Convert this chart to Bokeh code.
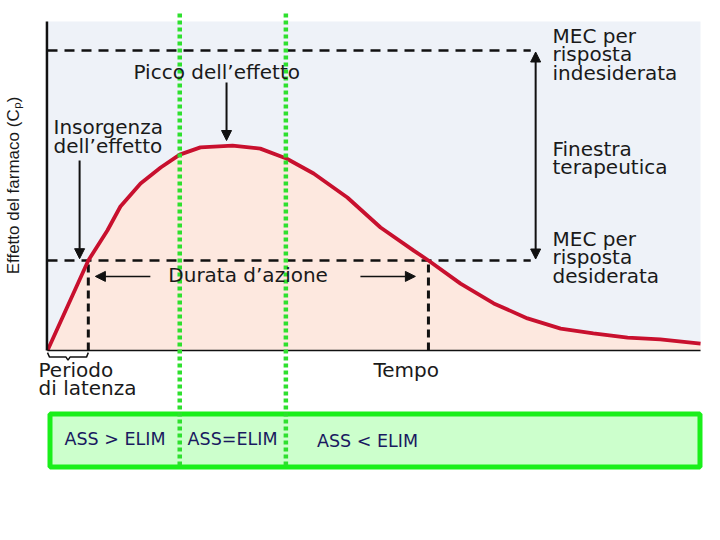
import math
from bokeh.plotting import figure
from bokeh.models import Range1d, Arrow, NormalHead
from bokeh.core.properties import value
from bokeh.embed import file_html
from bokeh.resources import INLINE

# ---- data (time in h, effect in arbitrary Cp units) ----
time_h = [0, 0.75, 1.10, 1.34, 1.71, 2.08, 2.43, 2.81, 3.40, 3.91, 4.39, 4.89,
          5.51, 6.12, 6.73, 7.00, 7.59, 8.20, 8.82, 9.43, 10.03, 10.66, 11.26, 12.0]
effect = [0, 30, 40, 48, 55.7, 61, 65.3, 67.7, 68.3, 67.3, 64, 59,
          51, 41, 33.3, 30, 22.3, 15.7, 10.7, 7.3, 5.7, 4.3, 3.7, 2.3]

MEC_desired = 30
MEC_undesired = 100
onset_t = 0.75
offset_t = 7.00
peak_t = 3.40
phase_bounds = [2.43, 4.38]
phase_labels = ["ASS > ELIM", "ASS=ELIM", "ASS < ELIM"]

T_MAX = 12.0
CP_TOP = 109.7

# ---- figure: frame covers whole canvas ----
PX_PER_H = 54.42
PX_PER_CP = 3.0
p = figure(width=720, height=540, min_border=0,
           x_range=Range1d(-47 / PX_PER_H, 673 / PX_PER_H),
           y_range=Range1d(-190 / PX_PER_CP, 350 / PX_PER_CP),
           x_axis_location=None, y_axis_location=None,
           toolbar_location=None, output_backend="svg")
p.grid.visible = False
p.outline_line_color = None
p.background_fill_color = "white"

# plot background
p.quad(left=[0], right=[T_MAX], bottom=[0], top=[CP_TOP],
       fill_color="#eef2f8", line_color=None)
# area under curve
p.varea(x=time_h, y1=[0] * len(time_h), y2=effect, fill_color="#fde8df")

# MEC dashed lines
dash_end = 8.88
p.segment(x0=[0, 0], x1=[dash_end, dash_end], y0=[MEC_desired, MEC_undesired],
          y1=[MEC_desired, MEC_undesired], line_color="#111111", line_width=2.5,
          line_dash="10 7")
# vertical dotted at onset / offset
p.segment(x0=[onset_t, offset_t], x1=[onset_t, offset_t], y0=[0, 0],
          y1=[MEC_desired, MEC_desired], line_color="#111111", line_width=3,
          line_dash="8 5")

# curve
p.line(time_h, effect, line_color="#c8102e", line_width=3.8)

# axes lines
p.line([-0.01, -0.01], [0, CP_TOP], line_color="#111111", line_width=2.5)
p.line([0, T_MAX], [0, 0], line_color="#111111", line_width=1.5)

# brace for latency period
p.line([0, 0.037, 0.34, 0.377, 0.414, 0.717, onset_t],
       [-0.7, -2.2, -2.2, -3.2, -2.2, -2.2, -0.7],
       line_color="#111111", line_width=1.5)

# phase box
p.quad(left=[0.046], right=[11.99], top=[-21.17], bottom=[-38.83],
       fill_color="#ccffcc", line_color="#1aef1a", line_width=5)

# green phase boundaries
p.segment(x0=phase_bounds, x1=phase_bounds, y0=[112.3, 112.3], y1=[-39, -39],
          line_color="#2ee02e", line_width=4.5, line_dash="4 3")

FONT = value("DejaVu Sans")
TXT = "#1a1a1a"
# left/center labels
p.text(x=[1.58, 0.11, 0.11, 2.22, -0.165, -0.165, 5.99],
       y=[93.0, 74.6, 68.3, 25.3, -6.4, -12.4, -6.4],
       text=["Picco dell\u2019effetto", "Insorgenza", "dell\u2019effetto",
             "Durata d\u2019azione", "Periodo", "di latenza", "Tempo"],
       text_font=FONT, text_font_size="20px", text_color=TXT,
       text_align="left", text_baseline="alphabetic")
# right labels
p.text(x=[9.28] * 8,
       y=[105.0, 98.8, 92.6, 67.3, 61.1, 37.3, 31.1, 24.9],
       text=["MEC per", "risposta", "indesiderata", "Finestra", "terapeutica",
             "MEC per", "risposta", "desiderata"],
       text_font=FONT, text_font_size="20px", text_color=TXT,
       text_align="left", text_baseline="alphabetic")
# y label
p.text(x=[-0.625], y=[55], text=["Effetto del farmaco (C\u209a)"],
       angle=math.pi / 2, text_font=value("Liberation Sans"),
       text_font_size="17px", text_color=TXT, text_align="center",
       text_baseline="middle")
# phase labels
p.text(x=[1.24, 3.40, 5.88], y=[-29.5, -29.5, -30.1], text=phase_labels,
       text_font=FONT, text_font_size="17.5px", text_color="#1a1a60",
       text_align="center", text_baseline="alphabetic")

# arrows
def head():
    return NormalHead(size=10, fill_color="#111111", line_color="#111111")

p.add_layout(Arrow(end=head(), x_start=0.59, y_start=63.3, x_end=0.59,
                   y_end=MEC_desired + 0.6, line_width=2, line_color="#111111"))
p.add_layout(Arrow(end=head(), x_start=3.29, y_start=89.3, x_end=3.29,
                   y_end=70, line_width=2, line_color="#111111"))
p.add_layout(Arrow(start=head(), end=head(), x_start=8.97, y_start=MEC_undesired - 0.5,
                   x_end=8.97, y_end=MEC_desired + 0.5, line_width=2,
                   line_color="#111111"))
p.add_layout(Arrow(end=head(), x_start=1.89, y_start=24.7, x_end=0.88,
                   y_end=24.7, line_width=1.5, line_color="#111111"))
p.add_layout(Arrow(end=head(), x_start=5.75, y_start=24.7, x_end=6.76,
                   y_end=24.7, line_width=1.5, line_color="#111111"))

open("out.html", "w").write(file_html(p, INLINE))
